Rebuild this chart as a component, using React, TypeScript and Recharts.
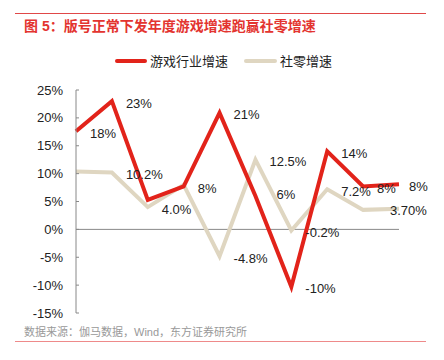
import { LineChart, Line, XAxis, YAxis, ReferenceLine, LabelList } from "recharts";

const years = ["2016", "2017", "2018", "2019", "2020", "2021", "2022", "2023", "2024", "2025"];
const gameGrowth = [17.6, 23.0, 5.3, 7.7, 20.9, 6.0, -10.3, 14.0, 7.7, 8.1];
const retailGrowth = [10.4, 10.2, 4.0, 8.0, -4.8, 12.5, -0.2, 7.2, 3.5, 3.7];
const gameLabels = ["18%", "23%", null, "8%", "21%", "6%", "-10%", "14%", "8%", "8%"];
const retailLabels = [null, "10.2%", "4.0%", null, "-4.8%", "12.5%", "-0.2%", "7.2%", null, "3.70%"];
const yTicks = [-15, -10, -5, 0, 5, 10, 15, 20, 25];

const data = years.map((year, i) => ({
  year,
  game: gameGrowth[i],
  retail: retailGrowth[i],
}));

const FONT = "'Liberation Sans', Arial, 'Noto Sans CJK SC', sans-serif";
const RED = "#E2231A";
const BEIGE = "#DFD6C1";

const W = 444;
const H = 360;
const M = { top: 90, right: 45, bottom: 47, left: 0 };
const Y_W = 76;
const PLOT_H = H - M.top - M.bottom;
const PLOT_W = W - M.left - Y_W - M.right;
const ZERO_Y = M.top + (PLOT_H * 25) / 40;
const BAND = PLOT_W / years.length;

// per-point nudges so labels land where the original put them
const gameNudge: Record<number, [number, number]> = { 5: [21, -3], 9: [10, 0] };
const retailNudge: Record<number, [number, number]> = { 9: [-9, 0] };

const makeLabel =
  (texts: (string | null)[], nudge: Record<number, [number, number]>) =>
  (props: any) => {
    const { x, y, index } = props;
    const t = texts[index];
    if (!t) return null;
    const [dx, dy] = nudge[index] || [14, 0];
    return (
      <text
        x={x + dx}
        y={y + 2 + dy}
        fontSize={13}
        fill="#222"
        fontFamily={FONT}
        dominantBaseline="central"
      >
        {t}
      </text>
    );
  };

const YearTick = (props: any) => {
  const { x, payload, index } = props;
  return (
    <g>
      <line x1={x + BAND / 2} x2={x + BAND / 2} y1={ZERO_Y - 4} y2={ZERO_Y} stroke="#888" />
      {index === 0 && <line x1={x - BAND / 2} x2={x - BAND / 2} y1={ZERO_Y - 4} y2={ZERO_Y} stroke="#888" />}
      <text x={x} y={ZERO_Y + 15} textAnchor="middle" dominantBaseline="central" fontSize={13} fill="#222" fontFamily={FONT}>
        {payload.value}
      </text>
    </g>
  );
};

const LegendBox = () => (
  <div style={{ position: "absolute", top: 51, left: 115, display: "flex", alignItems: "center", fontSize: 13, color: "#222", fontFamily: FONT }}>
    <span style={{ width: 32, height: 4, background: RED, borderRadius: 2, marginRight: 3 }} />
    <span>游戏行业增速</span>
    <span style={{ width: 33, height: 4, background: BEIGE, borderRadius: 2, marginLeft: 16, marginRight: 3 }} />
    <span>社零增速</span>
  </div>
);

export default function App() {
  return (
    <div style={{ position: "absolute", top: 0, left: 0, width: W, height: H, background: "#fff", fontFamily: FONT }}>
      <div style={{ position: "absolute", top: 13, left: 15, width: 411, height: 1, background: "#E04848" }} />
      <div style={{ position: "absolute", top: 17, left: 24, fontSize: 14, fontWeight: "bold", color: "#E3342F", lineHeight: "18px" }}>
        图 5：版号正常下发年度游戏增速跑赢社零增速
      </div>
      <LegendBox />
      <div style={{ position: "absolute", top: 0, left: 0 }}>
        <LineChart width={W} height={H} data={data} margin={M}>
          <XAxis dataKey="year" height={0} axisLine={false} tickLine={false} tick={<YearTick />} interval={0} />
          <YAxis
            width={Y_W}
            domain={[-15, 25]}
            ticks={yTicks}
            interval={0}
            tickFormatter={(v: number) => `${v}%`}
            stroke="#888"
            tickSize={-3}
            tickMargin={16}
            tick={{ fontSize: 13, fill: "#222", fontFamily: FONT }}
          />
          <ReferenceLine y={0} stroke="#888" />
          <Line dataKey="retail" stroke={BEIGE} strokeWidth={4} dot={false} isAnimationActive={false}>
            <LabelList dataKey="retail" content={makeLabel(retailLabels, retailNudge)} />
          </Line>
          <Line dataKey="game" stroke={RED} strokeWidth={4} dot={false} isAnimationActive={false}>
            <LabelList dataKey="game" content={makeLabel(gameLabels, gameNudge)} />
          </Line>
        </LineChart>
      </div>
      <div style={{ position: "absolute", top: 325, left: 24, fontSize: 11, color: "#999", lineHeight: "14px" }}>
        数据来源：伽马数据，Wind，东方证券研究所
      </div>
      <div style={{ position: "absolute", top: 341, left: 15, width: 411, height: 1, background: "#EE8A8A" }} />
    </div>
  );
}
